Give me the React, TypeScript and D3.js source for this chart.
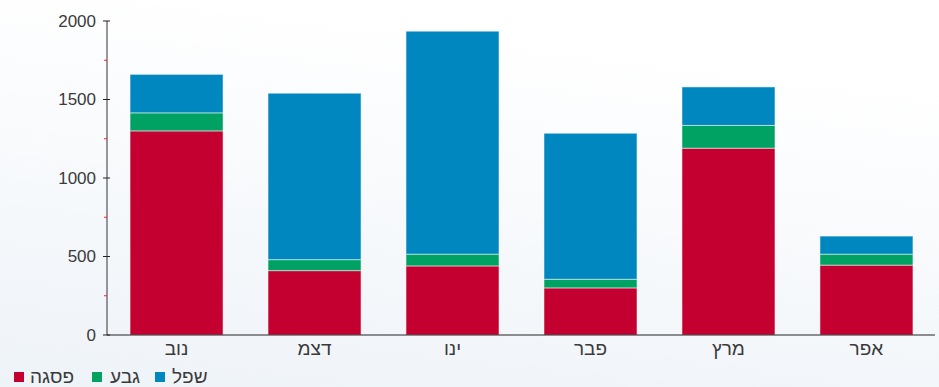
import React from "react";
import * as d3 from "d3";

const categories = ["נוב", "דצמ", "ינו", "פבר", "מרץ", "אפר"];
const seriesNames = ["פסגה", "גבע", "שפל"];
const peakValues = [1300, 410, 440, 300, 1190, 445];
const hillValues = [115, 70, 75, 55, 145, 70];
const lowValues = [245, 1060, 1420, 930, 245, 115];
const yTicks = [0, 500, 1000, 1500, 2000];
const yMinorTicks = [250, 750, 1250, 1750];
const colors = ["#c40031", "#00a263", "#0087bf"];

const W = 939;
const H = 387;
const M = { left: 107, right: 3, top: 21, bottom: 52 };

export default function App() {
  const rows = categories.map((c, i) => ({
    cat: c,
    s0: peakValues[i],
    s1: hillValues[i],
    s2: lowValues[i],
  }));
  const stack = d3.stack<any>().keys(["s0", "s1", "s2"])(rows);
  const x = d3
    .scaleBand()
    .domain(categories)
    .range([M.left, W - M.right])
    .paddingInner(0.326)
    .paddingOuter(0.167);
  const y = d3.scaleLinear().domain([0, 2000]).range([H - M.bottom, M.top]);
  const font = "'Liberation Sans', Arial, sans-serif";
  const legendX = [14, 92, 155];
  const textOffsets = [16, 18, 17];

  return (
    <svg
      width={W}
      height={H}
      style={{ position: "absolute", left: 0, top: 0, display: "block" }}
      fontFamily={font}
    >
      <defs>
        <linearGradient id="bg" x1="0.3" y1="0" x2="0" y2="1">
          <stop offset="0" stopColor="#ffffff" />
          <stop offset="1" stopColor="#eef3f8" />
        </linearGradient>
      </defs>
      <rect x={0} y={0} width={W} height={H} fill="url(#bg)" />
      {stack.map((layer, si) =>
        layer.map((d, i) => (
          <rect
            key={si + "-" + i}
            x={x(categories[i])!}
            y={y(d[1])}
            width={x.bandwidth()}
            height={y(d[0]) - y(d[1])}
            fill={colors[si]}
            stroke="rgba(255,255,255,0.5)"
            strokeWidth={1}
          />
        ))
      )}
      {/* y axis */}
      <line x1={M.left} x2={M.left} y1={y(2000)} y2={y(0)} stroke="#333" strokeWidth={1} />
      {yMinorTicks.map((t) => (
        <line key={"m" + t} x1={M.left - 3} x2={M.left} y1={y(t)} y2={y(t)} stroke="#ff2020" strokeWidth={1} />
      ))}
      {yTicks.map((t) => (
        <g key={t}>
          <line x1={M.left - 4} x2={M.left + 3} y1={y(t)} y2={y(t)} stroke="#222" strokeWidth={1} />
          <text
            x={M.left - 11}
            y={y(t)}
            dy="0.35em"
            textAnchor="end"
            fontSize={17}
            fill="#3a3a3a"
          >
            {t}
          </text>
        </g>
      ))}
      {/* x axis */}
      <line x1={M.left} x2={W - 4} y1={y(0)} y2={y(0)} stroke="#222" strokeWidth={1} />
      {categories.map((c) => (
        <text
          key={c}
          x={x(c)! + x.bandwidth() / 2}
          y={y(0) + 20}
          textAnchor="middle"
          fontSize={19}
          fill="#3a3a3a"
        >
          {c}
        </text>
      ))}
      {/* legend */}
      {seriesNames.map((n, i) => (
        <g key={n}>
          <rect x={legendX[i]} y={372} width={10} height={10} fill={colors[i]} />
          <text x={legendX[i] + textOffsets[i]} y={383} fontSize={19} fill="#3a3a3a">
            {n}
          </text>
        </g>
      ))}
    </svg>
  );
}
